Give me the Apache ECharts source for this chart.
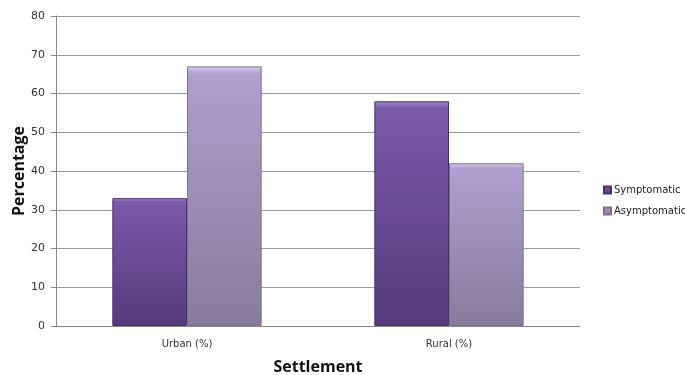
<!DOCTYPE html>
<html>
<head>
<meta charset="utf-8">
<script src="https://cdn.jsdelivr.net/npm/echarts@6/dist/echarts.min.js"></script>
<style>
  html, body { margin: 0; padding: 0; background: #fff; }
  #chart { width: 685px; height: 375px; }
</style>
</head>
<body>
<div id="chart"></div>
<script>
// Settlement categories and the share of each group (%)
const categories = ['Urban (%)', 'Rural (%)'];
const symptomatic = [33, 58];
const asymptomatic = [67, 42];
const yTicks = { min: 0, max: 80, interval: 10 };

function grad(top, mid, bottom) {
  return new echarts.graphic.LinearGradient(0, 0, 0, 1, [
    { offset: 0, color: top },
    { offset: 0.03, color: mid },
    { offset: 1, color: bottom }
  ]);
}

const chart = echarts.init(document.getElementById('chart'));
chart.setOption({
  animation: false,
  textStyle: { fontFamily: 'DejaVu Sans' },
  grid: { left: 56, right: 105, top: 16, bottom: 49, containLabel: false, outerBoundsMode: 'none' },
  legend: {
    orient: 'vertical',
    left: 598,
    top: 180,
    itemWidth: 7,
    itemHeight: 7,
    itemGap: 11,
    icon: 'rect',
    textStyle: { fontSize: 10, color: '#222', fontFamily: 'DejaVu Sans', padding: [0, 0, 0, -2] },
    data: ['Symptomatic', 'Asymptomatic']
  },
  xAxis: {
    type: 'category',
    data: categories,
    name: 'Settlement',
    nameLocation: 'middle',
    nameGap: 33,
    nameMoveOverlap: false,
    nameTextStyle: { fontSize: 16, fontWeight: 'bold', color: '#111', fontFamily: 'Open Sans' },
    axisLine: { lineStyle: { color: '#888' } },
    axisTick: { show: false },
    axisLabel: { fontSize: 10, color: '#333', margin: 13 }
  },
  yAxis: {
    type: 'value',
    min: yTicks.min,
    max: yTicks.max,
    interval: yTicks.interval,
    name: 'Percentage',
    nameLocation: 'middle',
    nameGap: 29,
    nameMoveOverlap: false,
    nameTextStyle: { fontSize: 16, fontWeight: 'bold', color: '#111', fontFamily: 'Open Sans' },
    axisLine: { show: true, lineStyle: { color: '#888' } },
    axisTick: { show: true, inside: false, length: 5, lineStyle: { color: '#888' } },
    axisLabel: { fontSize: 11, color: '#333', margin: 11 },
    splitLine: { lineStyle: { color: '#999' } }
  },
  series: [
    {
      name: 'Symptomatic',
      type: 'bar',
      data: symptomatic,
      barGap: '0%',
      barCategoryGap: '43%',
      itemStyle: {
        color: grad('#a48cd0', '#7a59aa', '#563a7a'),
        borderColor: '#4a3168',
        borderWidth: 1
      }
    },
    {
      name: 'Asymptomatic',
      type: 'bar',
      data: asymptomatic,
      itemStyle: {
        color: grad('#d8ccee', '#b09fd0', '#877b9c'),
        borderColor: '#7d7090',
        borderWidth: 1
      }
    }
  ]
});
</script>
</body>
</html>
